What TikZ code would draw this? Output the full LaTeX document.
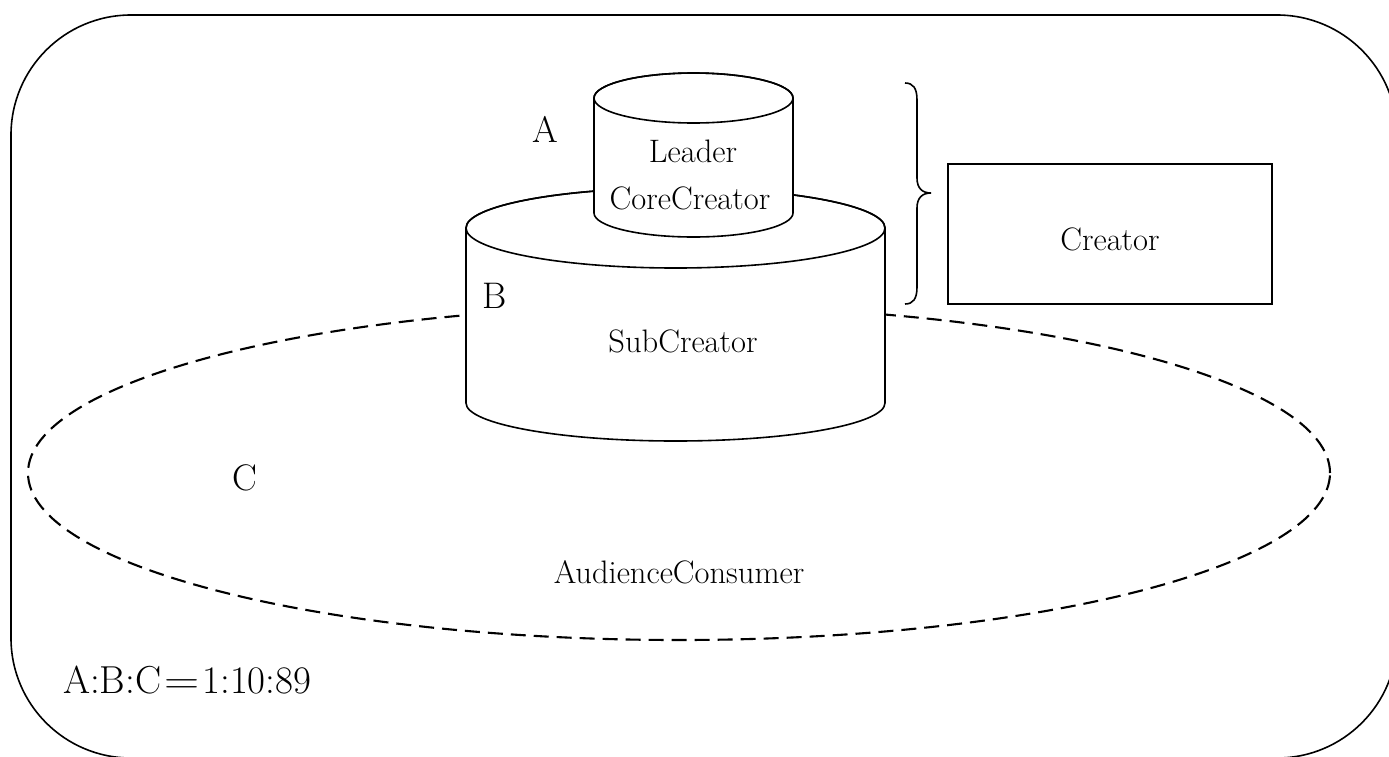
\documentclass[tikz,border=0pt]{standalone}
\usepackage{graphicx}
\begin{document}
\begin{tikzpicture}[x=1pt,y=-1pt,
  ln/.style={line width=1.6pt, black},
  dashln/.style={line width=2.1pt, dash pattern=on 15pt off 8pt},
  small/.style={font=\fontsize{32.5}{38}\selectfont, inner sep=0pt, anchor=base},
  big/.style={font=\fontsize{37}{42}\selectfont, inner sep=0pt, anchor=base}]
\useasboundingbox (0,0) rectangle (1389,756);
\clip (0,0) rectangle (1389,756);
% outer frame
\draw[ln, rounded corners=120pt] (11,15) rectangle (1397,758);
% audience ellipse
\draw[dashln] (679,473) ellipse [x radius=651pt, y radius=167pt];
% big cylinder B
\filldraw[ln, fill=white] (466,228) -- (466,403)
  arc[start angle=180, end angle=360, x radius=209.5pt, y radius=38pt]
  -- (885,228)
  arc[start angle=0, end angle=180, x radius=209.5pt, y radius=40pt] -- cycle;
\draw[ln] (675.5,228) ellipse [x radius=209.5pt, y radius=40pt];
% small cylinder A
\filldraw[ln, fill=white] (594,98) -- (594,213)
  arc[start angle=180, end angle=360, x radius=99.5pt, y radius=24pt]
  -- (793,98)
  arc[start angle=0, end angle=180, x radius=99.5pt, y radius=25pt] -- cycle;
\draw[ln] (693.5,98) ellipse [x radius=99.5pt, y radius=25pt];
% brace
\draw[ln] (905,83) .. controls (913,83) and (917,88) .. (917,100) -- (917,178)
  .. controls (917,188) and (922,193) .. (931,193)
  .. controls (922,193) and (917,198) .. (917,208) -- (917,287)
  .. controls (917,299) and (913,304) .. (905,304);
% creator box
\node[ln, draw, minimum width=324pt, minimum height=140pt, inner sep=0pt] (creator) at (1110,234) {};
\node[small] (creatorText) at (1110,250) {Creator};
% labels
\node[small] (leader) at (693,162) {Leader};
\node[small] (core) at (690,209) {CoreCreator};
\node[small] (sub) at (683,352) {SubCreator};
\node[small] (aud) at (679,583) {AudienceConsumer};
\node[big] (labA) at (545,142) {A};
\node[big] (labB) at (495,308) {B};
\node[big] (labC) at (245,490) {C};
\node[big, anchor=base west, font=\fontsize{39}{44}\selectfont] (ratio) at (63,693) {A:B:C\hspace{3pt}\scalebox{1.25}[1]{=}\hspace{3pt}1:10:89};
\end{tikzpicture}
\end{document}
